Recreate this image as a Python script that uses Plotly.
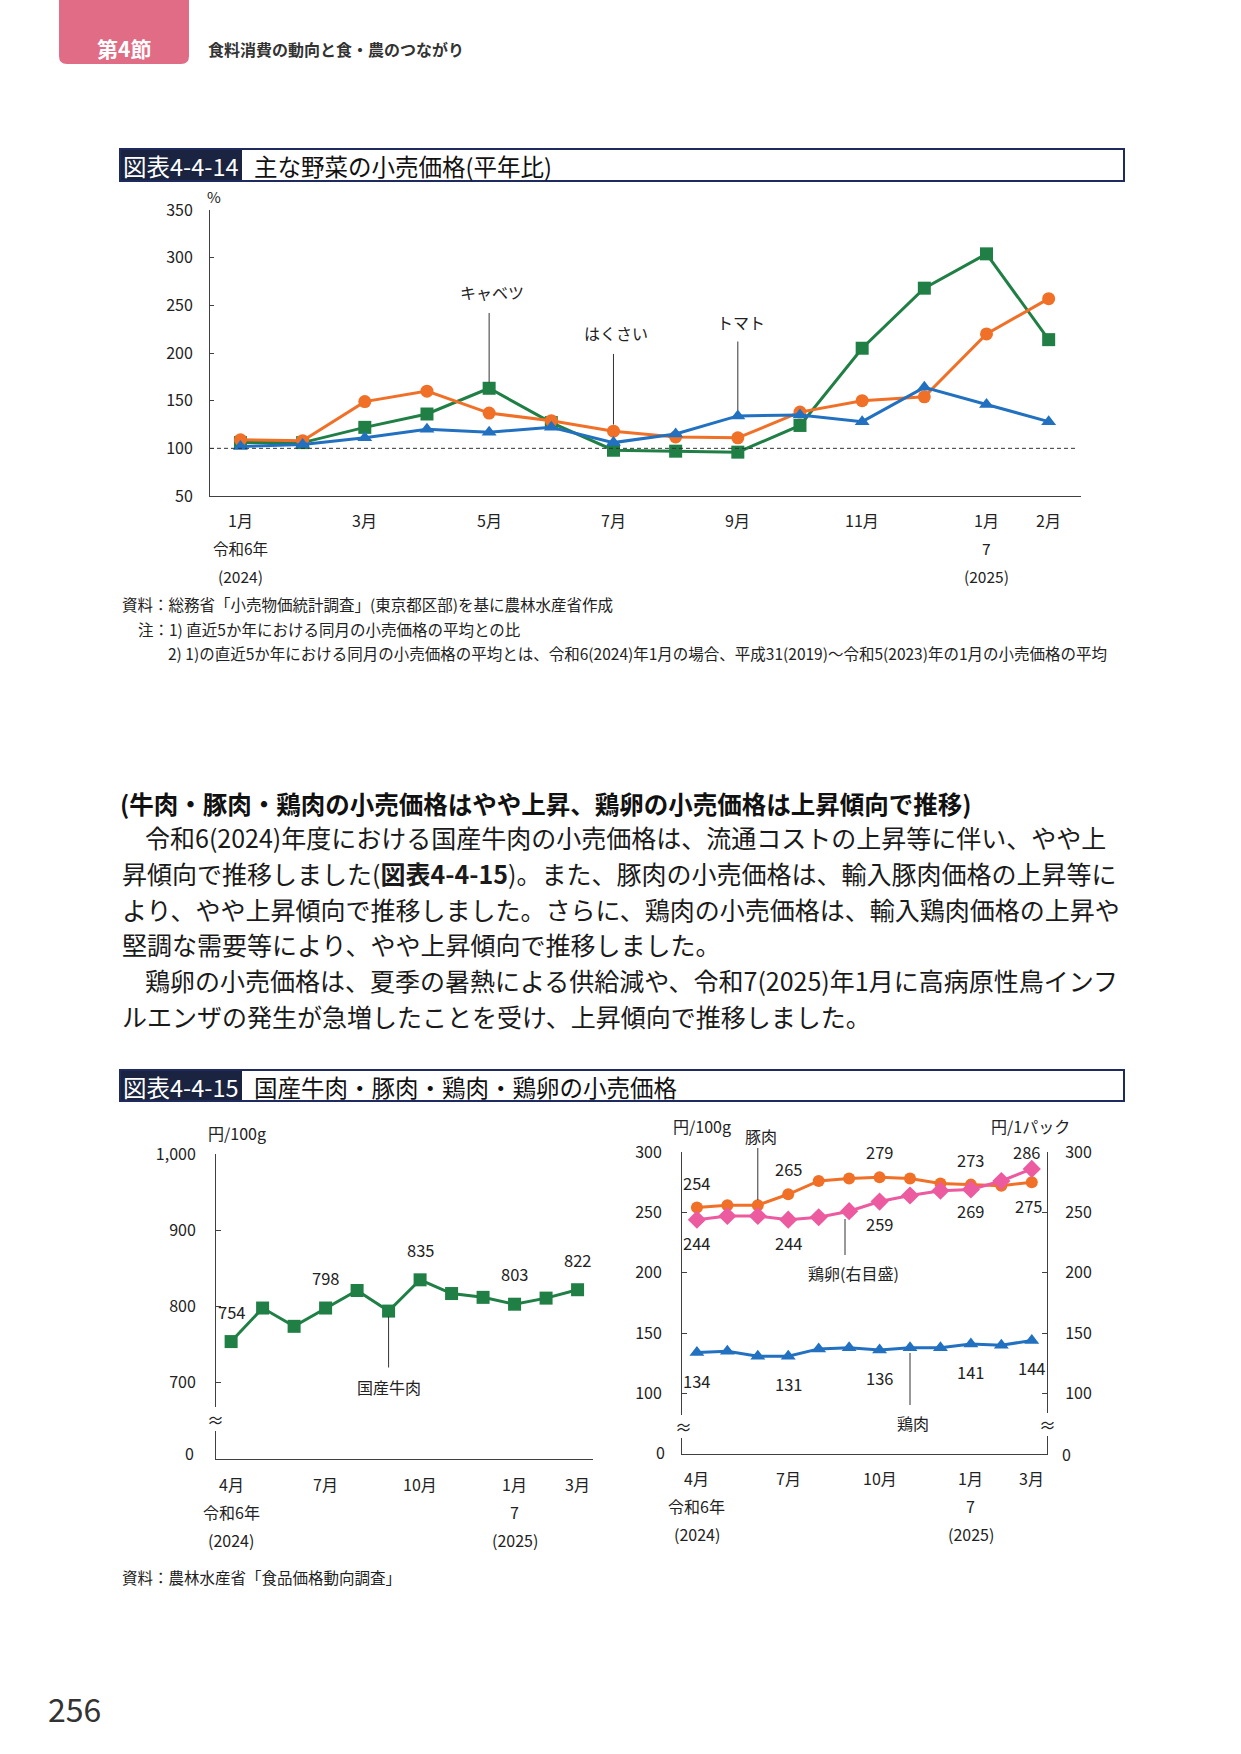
import plotly.graph_objects as go

W, H = 1241, 1754
FONT = "Noto Sans CJK JP, Noto Sans, sans-serif"
TXT = '#222222'
AXIS = '#404040'

COLORS = {
    'green': '#1F7F45',
    'orange': '#F07028',
    'blue': '#2270C0',
    'pink': '#EC5A9F',
    'navy': '#1F2A5E',
    'label_bg': '#1A2340',
    'tab': '#E06C85',
}

# ---- 図表4-4-14 data (平年比, %) ----
veg_ticks = ['1月', '3月', '5月', '7月', '9月', '11月', '1月', '2月']
veg_tick_idx = [0, 2, 4, 6, 8, 10, 12, 13]
cabbage = [106, 106, 122, 136, 163, 127, 98, 97, 96, 124, 205, 268, 304, 214]
hakusai = [109, 108, 149, 160, 137, 129, 118, 112, 111, 138, 150, 154, 220, 257]
tomato = [102, 104, 111, 120, 117, 122, 106, 115, 134, 135, 128, 164, 146, 128]

# ---- 図表4-4-15 data ----
meat_ticks = ['4月', '7月', '10月', '1月', '3月']
meat_tick_idx = [0, 3, 6, 9, 11]
beef = [754, 798, 774, 798, 821, 794, 835, 817, 812, 803, 811, 822]
pork = [254, 256, 256, 265, 276, 278, 279, 278, 274, 273, 272, 275]
egg = [244, 247, 247, 244, 246, 251, 259, 264, 268, 269, 276, 286]
chicken = [134, 135, 131, 131, 137, 138, 136, 138, 138, 141, 140, 144]
label_idx = [0, 3, 6, 9, 11]


def px(x):
    return x / W


def py(y):
    return 1 - y / H


def f(size, color=TXT):
    return dict(size=size, color=color, family=FONT)


def text(s, x, y, size=14, color=TXT, xanchor='left', **kw):
    return dict(text=s, x=px(x), y=py(y), xref='paper', yref='paper', showarrow=False,
                xanchor=xanchor, yanchor='middle', font=f(size, color), **kw)


def atext(s, x, xref, y, yref, size, **kw):
    # text placed against axis coordinates
    return dict(text=s, x=x, xref=xref, y=y, yref=yref, showarrow=False,
                xanchor='center', yanchor='middle', font=f(size), **kw)


def line(x0, y0, x1, y1, color='#333333', width=1, **kw):
    return dict(type='line', x0=px(x0), y0=py(y0), x1=px(x1), y1=py(y1), xref='paper', yref='paper',
                line=dict(color=color, width=width), **kw)


def rect(x0, y0, x1, y1, fill=None, lc=None, lw=0):
    return dict(type='rect', x0=px(x0), y0=py(y0), x1=px(x1), y1=py(y1), xref='paper', yref='paper',
                fillcolor=fill or 'rgba(0,0,0,0)', line=dict(color=lc or 'rgba(0,0,0,0)', width=lw), layer='above')


fig = go.Figure()

# chart 1 traces
x1 = list(range(len(cabbage)))
fig.add_trace(go.Scatter(x=x1, y=cabbage, mode='lines+markers', line=dict(color=COLORS['green'], width=3),
                         marker=dict(symbol='square', size=13, color=COLORS['green']), xaxis='x', yaxis='y'))
fig.add_trace(go.Scatter(x=x1, y=hakusai, mode='lines+markers', line=dict(color=COLORS['orange'], width=3),
                         marker=dict(symbol='circle', size=13, color=COLORS['orange']), xaxis='x', yaxis='y'))
fig.add_trace(go.Scatter(x=x1, y=tomato, mode='lines+markers', line=dict(color=COLORS['blue'], width=3),
                         marker=dict(symbol='triangle-up', size=13, color=COLORS['blue']), xaxis='x', yaxis='y'))

# chart 2 left
x2 = list(range(len(beef)))
fig.add_trace(go.Scatter(x=x2, y=beef, mode='lines+markers', line=dict(color=COLORS['green'], width=3),
                         marker=dict(symbol='square', size=13, color=COLORS['green']), xaxis='x2', yaxis='y2'))

# chart 2 right
fig.add_trace(go.Scatter(x=x2, y=pork, mode='lines+markers', line=dict(color=COLORS['orange'], width=3),
                         marker=dict(symbol='circle', size=12, color=COLORS['orange']), xaxis='x3', yaxis='y3'))
fig.add_trace(go.Scatter(x=x2, y=egg, mode='lines+markers', line=dict(color=COLORS['pink'], width=3),
                         marker=dict(symbol='diamond', size=14, color=COLORS['pink']), xaxis='x3', yaxis='y4'))
fig.add_trace(go.Scatter(x=x2, y=chicken, mode='lines+markers', line=dict(color=COLORS['blue'], width=3),
                         marker=dict(symbol='triangle-up', size=13, color=COLORS['blue']), xaxis='x3', yaxis='y3'))

ax_common = dict(showline=True, linecolor=AXIS, linewidth=1, showgrid=False, zeroline=False, automargin=False)

fig.update_layout(
    width=W, height=H, margin=dict(l=0, r=0, t=0, b=0, autoexpand=False),
    paper_bgcolor='white', plot_bgcolor='rgba(0,0,0,0)', showlegend=False,
    font=dict(family=FONT, color=TXT),
    xaxis=dict(domain=[px(210), px(1081)], range=[-0.49, 13.52], anchor='y', showticklabels=False, ticks='', **ax_common),
    yaxis=dict(domain=[py(496), py(210)], range=[50, 350], anchor='x', tickvals=[50, 100, 150, 200, 250, 300, 350],
               ticks='inside', ticklen=4, tickcolor=AXIS, tickfont=f(16), ticklabelstandoff=13, **ax_common),
    xaxis2=dict(domain=[px(216), px(593)], range=[-0.48, 11.49], anchor='y2', showticklabels=False, ticks='', **ax_common),
    yaxis2=dict(domain=[py(1459), py(1154)], range=[600, 1000], anchor='x2', tickvals=[700, 800, 900, 1000],
                ticktext=['700', '800', '900', '1,000'], ticks='inside', ticklen=5, tickcolor=AXIS,
                tickfont=f(16), ticklabelstandoff=16, **ax_common),
    xaxis3=dict(domain=[px(682), px(1047)], range=[-0.49, 11.5], anchor='y3', showticklabels=False, ticks='', **ax_common),
    yaxis3=dict(domain=[py(1454), py(1152)], range=[50, 300], anchor='x3', tickvals=[100, 150, 200, 250, 300],
                ticks='inside', ticklen=5, tickcolor=AXIS, tickfont=f(16), ticklabelstandoff=16, **ax_common),
    yaxis4=dict(domain=[py(1454), py(1152)], range=[50, 300], anchor='x3', overlaying='y3', side='right',
                tickvals=[100, 150, 200, 250, 300], ticks='inside', ticklen=5, tickcolor=AXIS,
                tickfont=f(16), ticklabelstandoff=14, **ax_common),
)

shapes = []
ann = []

# ---- page header ----
tab_path = (f"M {px(59)},{py(0)} L {px(189)},{py(0)} L {px(189)},{py(56)} "
            f"Q {px(189)},{py(64)} {px(181)},{py(64)} L {px(67)},{py(64)} "
            f"Q {px(59)},{py(64)} {px(59)},{py(56)} Z")
shapes.append(dict(type='path', path=tab_path, xref='paper', yref='paper', fillcolor=COLORS['tab'],
                   line=dict(width=0)))
ann.append(text('<b>第4節</b>', 124, 48, size=21, color='white', xanchor='center'))
ann.append(text('<b>食料消費の動向と食・農のつながり</b>', 206, 49, size=16, color='#333333'))


def title_box(y0, y1, label, title):
    shapes.append(rect(120, y0, 1124, y1, lc=COLORS['navy'], lw=2))
    shapes.append(rect(121, y0 + 1, 242, y1 - 1, fill=COLORS['label_bg']))
    ym = (y0 + y1) / 2
    ann.append(text(label, 121, ym + 1, size=23.5, color='white'))
    ann.append(text(title, 252, ym + 1, size=23.5, color='#111111'))


title_box(149, 181, '図表4-4-14', '主な野菜の小売価格(平年比)')
title_box(1070, 1101, '図表4-4-15', '国産牛肉・豚肉・鶏肉・鶏卵の小売価格')

# ---- chart 1 extras ----
ann.append(text('%', 214, 196, size=15, xanchor='center'))
shapes.append(dict(type='line', xref='x domain', yref='y', x0=0, x1=0.996, y0=100, y1=100,
                   line=dict(color='#333333', width=1, dash='4px,3px')))
for i, lab in zip(veg_tick_idx, veg_ticks):
    ann.append(atext(lab, i, 'x', py(520), 'paper', 16))
for i, l2, l3 in [(0, '令和6年', '(2024)'), (12, '7', '(2025)')]:
    ann.append(atext(l2, i, 'x', py(548), 'paper', 15.5))
    ann.append(atext(l3, i, 'x', py(576), 'paper', 15.5))
for i, name, y0, y1, yt in [(4, 'キャベツ', 169, 242, 264), (6, 'はくさい', 125, 199, 221), (8, 'トマト', 140, 212, 233)]:
    shapes.append(dict(type='line', xref='x', yref='y', x0=i, x1=i, y0=y0, y1=y1, line=dict(color='#333333', width=1)))
    ann.append(atext(name, i, 'x', yt, 'y', 16, xshift=3))

notes = [
    (120, 604, '資料：総務省「小売物価統計調査」(東京都区部)を基に農林水産省作成'),
    (136, 629, '注：1) 直近5か年における同月の小売価格の平均との比'),
    (166, 653, '2) 1)の直近5か年における同月の小売価格の平均とは、令和6(2024)年1月の場合、平成31(2019)～令和5(2023)年の1月の小売価格の平均'),
]
for x, y, s in notes:
    ann.append(text(s, x, y, size=15.5))

# ---- body text ----
ann.append(text('<b>(牛肉・豚肉・鶏肉の小売価格はやや上昇、鶏卵の小売価格は上昇傾向で推移)</b>', 118, 803, size=24.5, color='#111111'))
body = [
    (143, 837, '令和6(2024)年度における国産牛肉の小売価格は、流通コストの上昇等に伴い、やや上'),
    (120, 873, '昇傾向で推移しました(<b>図表4-4-15</b>)。また、豚肉の小売価格は、輸入豚肉価格の上昇等に'),
    (120, 909, 'より、やや上昇傾向で推移しました。さらに、鶏肉の小売価格は、輸入鶏肉価格の上昇や'),
    (120, 944, '堅調な需要等により、やや上昇傾向で推移しました。'),
    (143, 980, '鶏卵の小売価格は、夏季の暑熱による供給減や、令和7(2025)年1月に高病原性鳥インフ'),
    (120, 1016, 'ルエンザの発生が急増したことを受け、上昇傾向で推移しました。'),
]
for x, y, s in body:
    ann.append(text(s, x, y, size=25, color='#1a1a1a'))

# ---- chart 2 left extras ----
ann.append(text('円/100g', 237, 1133, size=16, xanchor='center'))
ann.append(text('0', 196, 1453, size=16, xanchor='right'))
shapes.append(rect(209, 1407, 223, 1431, fill='white'))
ann.append(text('≈', 215, 1419, size=17, xanchor='center'))
for i in label_idx:
    ann.append(atext(str(beef[i]), i, 'x2', beef[i], 'y2', 16.5, yshift=30))
shapes.append(dict(type='line', xref='x2', yref='y2', x0=5, x1=5, y0=787, y1=720, line=dict(color='#333333', width=1)))
ann.append(atext('国産牛肉', 5, 'x2', 695, 'y2', 16))
for xr, yp in [('x2', 1484), ('x3', 1478)]:
    for i, lab in zip(meat_tick_idx, meat_ticks):
        ann.append(atext(lab, i, xr, py(yp), 'paper', 16))
    for i, l2, l3 in [(0, '令和6年', '(2024)'), (9, '7', '(2025)')]:
        ann.append(atext(l2, i, xr, py(yp + 28), 'paper', 16))
        ann.append(atext(l3, i, xr, py(yp + 56), 'paper', 16))

# ---- chart 2 right extras ----
ann.append(text('円/100g', 702, 1126, size=16, xanchor='center'))
ann.append(text('円/1パック', 1030, 1126, size=16, xanchor='center'))
ann.append(text('0', 667, 1452, size=16, xanchor='right'))
ann.append(text('0', 1060, 1454, size=16))
shapes.append(rect(675, 1415, 689, 1438, fill='white'))
shapes.append(rect(1040, 1413, 1054, 1436, fill='white'))
ann.append(text('≈', 683, 1426, size=17, xanchor='center'))
ann.append(text('≈', 1047, 1424, size=17, xanchor='center'))

pork_shift = [25, 0, 0, 25, 0, 0, 25, 0, 0, 25, 0, -24]
egg_shift = [-23, 0, 0, -23, 0, 0, -22, 0, 0, -22, 0, 17]
for i in label_idx:
    ann.append(atext(str(pork[i]), i, 'x3', pork[i], 'y3', 16.5, yshift=pork_shift[i], xshift=-3 if i == 11 else 0))
    ann.append(atext(str(egg[i]), i, 'x3', egg[i], 'y4', 16.5, yshift=egg_shift[i], xshift=-5 if i == 11 else 0))
    ann.append(atext(str(chicken[i]), i, 'x3', chicken[i], 'y3', 16.5, yshift=-28))

# callouts (pork / egg / chicken)
shapes.append(dict(type='line', xref='x3', yref='paper', x0=2, x1=2, y0=py(1148), y1=py(1200),
                   line=dict(color='#333333', width=1)))
ann.append(text('豚肉', 761, 1136, size=16, xanchor='center'))
shapes.append(line(845, 1219, 845, 1255))
ann.append(text('鶏卵(右目盛)', 853, 1273, size=16, xanchor='center'))
shapes.append(dict(type='line', xref='x3', yref='paper', x0=7, x1=7, y0=py(1353), y1=py(1405),
                   line=dict(color='#333333', width=1)))
ann.append(text('鶏肉', 913, 1423, size=16, xanchor='center'))

ann.append(text('資料：農林水産省「食品価格動向調査」', 120, 1577, size=15.5))
ann.append(text('256', 74, 1708, size=32, color='#333333', xanchor='center'))

fig.update_layout(shapes=shapes, annotations=ann)

# pin the figure to the page's top-left corner so the page is exactly the figure
pin = ("var d=document.getElementById('{plot_id}');document.body.style.margin='0';"
       "document.body.style.overflow='hidden';d.style.position='absolute';d.style.left='0px';d.style.top='0px';")
fig.write_html("out.html", post_script=pin, config={'displayModeBar': False})
